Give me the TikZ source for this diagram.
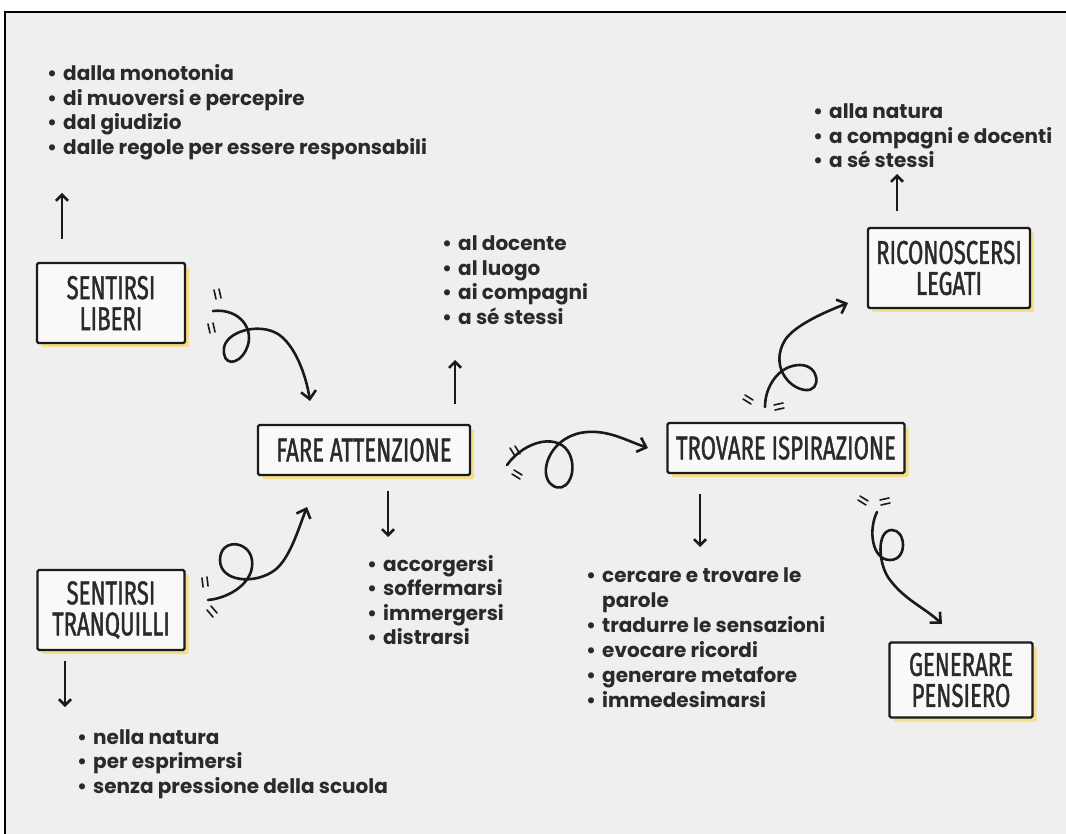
\documentclass[tikz,border=0pt]{standalone}
\usepackage{fontspec}
\usetikzlibrary{arrows.meta,shadows}
\newfontfamily\listfont{Poppins}
\newfontfamily\boxfont[FakeStretch=0.67,FakeBold=1.2]{Fira Sans}
\definecolor{bgc}{HTML}{EFEFEF}
\definecolor{ink}{HTML}{1A1A1A}
\definecolor{txt}{HTML}{2A2A2A}
\definecolor{glow}{HTML}{F5DE8A}
\tikzset{
  concept/.style={draw=ink, line width=2.4pt, fill=white!60!bgc, rounded corners=1.5pt,
    align=center, text=txt, font=\boxfont\fontsize{33}{31}\selectfont, inner sep=0pt,
    general shadow={fill=glow, shadow xshift=4pt, shadow yshift=-4pt}},
  bl/.style={anchor=base west, inner sep=0pt, text=txt, font=\listfont\bfseries\fontsize{20}{22}\selectfont},
  straw/.style={draw=ink, line width=2.5pt, -{Straight Barb[length=6pt,width=12pt,line width=2.5pt]}},
  curl/.style={draw=ink, line width=2.6pt, line cap=round, -{Straight Barb[length=8pt,width=15pt,line width=2.6pt]}},
  hatch/.style={draw=ink, line width=1.6pt, line cap=round}
}
\newcommand{\bu}{\makebox[16pt][l]{•}}
\begin{document}
\begin{tikzpicture}[x=1pt,y=-1pt]
\useasboundingbox (0,0) rectangle (1066,834);
\fill[white] (0,0) rectangle (1066,834);
\fill[bgc] (5,12) rectangle (1066,834);
\draw[black, line width=2pt] (5,834) -- (5,12) -- (1066,12);

% concept boxes
\node[concept, minimum width=148pt, minimum height=80pt] (liberi) at (111,303) {SENTIRSI\\LIBERI};
\node[concept, minimum width=212pt, minimum height=50pt] (att) at (364,450) {FARE ATTENZIONE};
\node[concept, minimum width=237pt, minimum height=50pt] (trov) at (786,448) {TROVARE ISPIRAZIONE};
\node[concept, minimum width=162pt, minimum height=80pt] (legati) at (949,268) {RICONOSCERSI\\LEGATI};
\node[concept, minimum width=143pt, minimum height=75pt] (gen) at (961,680) {GENERARE\\PENSIERO};
\node[concept, minimum width=147pt, minimum height=80pt] (tranq) at (111,610) {SENTIRSI\\TRANQUILLI};

% list A
\node[bl] (a1) at (47,81) {\bu dalla monotonia};
\node[bl] (a2) at (47,105.5) {\bu di muoversi e percepire};
\node[bl] (a3) at (47,130) {\bu dal giudizio};
\node[bl] (a4) at (47,154.5) {\bu dalle regole per essere responsabili};
% list B
\node[bl] (b1) at (813,119) {\bu alla natura};
\node[bl] (b2) at (813,143.5) {\bu a compagni e docenti};
\node[bl] (b3) at (813,168) {\bu a sé stessi};
% list C
\node[bl] (c1) at (442,251) {\bu al docente};
\node[bl] (c2) at (442,275.5) {\bu al luogo};
\node[bl] (c3) at (442,300) {\bu ai compagni};
\node[bl] (c4) at (442,324.5) {\bu a sé stessi};
% list D
\node[bl] (d1) at (367,571) {\bu accorgersi};
\node[bl] (d2) at (367,595.5) {\bu soffermarsi};
\node[bl] (d3) at (367,620) {\bu immergersi};
\node[bl] (d4) at (367,644.5) {\bu distrarsi};
% list E
\node[bl] (e1) at (586,582) {\bu cercare e trovare le};
\node[bl] (e2) at (586,607) {\hspace*{16pt}parole};
\node[bl] (e3) at (586,632) {\bu tradurre le sensazioni};
\node[bl] (e4) at (586,657) {\bu evocare ricordi};
\node[bl] (e5) at (586,682) {\bu generare metafore};
\node[bl] (e6) at (586,707) {\bu immedesimarsi};
% list F
\node[bl] (f1) at (77,744) {\bu nella natura};
\node[bl] (f2) at (77,768.5) {\bu per esprimersi};
\node[bl] (f3) at (77,793) {\bu senza pressione della scuola};

% straight arrows
\coordinate (sa) at (62,193);
\draw[straw] (liberi.north west -| sa) ++(0,-23) -- (sa);
\coordinate (sb) at (897,174);
\draw[straw] (legati.north west -| sb) ++(0,-16) -- (sb);
\coordinate (sc) at (455,360);
\draw[straw] (att.north -| sc) ++(0,-20) -- (sc);
\coordinate (sd) at (388,537);
\draw[straw] (att.south -| sd) ++(0,15) -- (sd);
\coordinate (se) at (700,547);
\draw[straw] (trov.south -| se) ++(0,20) -- (se);
\coordinate (sf) at (65,707);
\draw[straw] (tranq.south -| sf) ++(0,10) -- (sf);

% curly connectors
\coordinate (c1s) at (213,311);
\coordinate (c1e) at (310,401);
\draw[curl] (c1s) .. controls (240,308) and (256,330) .. (246,350)
  .. controls (238,366) and (222,366) .. (224,348)
  .. controls (226,332) and (258,322) .. (278,334)
  .. controls (295,345) and (306,375) .. (c1e);
\draw[hatch] (214,290) -- (216,299) (219,289) -- (221,298);
\draw[hatch] (208,324) -- (210,333) (213,323) -- (215,332);

\coordinate (c2s) at (208,600);
\coordinate (c2e) at (307,507);
\draw[curl] (c2s) .. controls (230,598) and (255,582) .. (252,560)
  .. controls (249,540) and (220,538) .. (220,560)
  .. controls (220,582) and (255,585) .. (275,570)
  .. controls (290,558) and (298,530) .. (c2e);
\draw[hatch] (202,578) -- (203,587) (207,577) -- (208,586);
\draw[hatch] (207,610) -- (213,617) (211,606) -- (217,613);

\coordinate (c3s) at (507,465);
\coordinate (c3e) at (648,448);
\draw[curl] (c3s) .. controls (525,440) and (560,432) .. (570,455)
  .. controls (578,475) and (565,495) .. (552,485)
  .. controls (538,475) and (548,440) .. (580,433)
  .. controls (605,428) and (625,440) .. (c3e);
\draw[hatch] (510,448) -- (515,456) (515,446) -- (520,454);
\draw[hatch] (512,474) -- (520,479) (514,470) -- (522,475);

\coordinate (c4s) at (765,407);
\coordinate (c4e) at (848,303);
\draw[curl] (c4s) .. controls (765,385) and (780,365) .. (800,365)
  .. controls (820,365) and (822,392) .. (805,390)
  .. controls (788,388) and (770,365) .. (785,340)
  .. controls (795,325) and (825,312) .. (c4e);
\draw[hatch] (745,395) -- (753,400) (743,399) -- (751,404);
\draw[hatch] (774,405) -- (783,403) (775,410) -- (784,408);

\coordinate (c5s) at (877,512);
\coordinate (c5e) at (942,624);
\draw[curl] (c5s) .. controls (868,530) and (872,560) .. (890,560)
  .. controls (908,560) and (906,530) .. (892,530)
  .. controls (876,530) and (878,565) .. (890,580)
  .. controls (905,600) and (925,608) .. (c5e);
\draw[hatch] (858,500) -- (866,505) (860,496) -- (868,501);
\draw[hatch] (880,500) -- (889,498) (881,505) -- (890,503);
\end{tikzpicture}
\end{document}
